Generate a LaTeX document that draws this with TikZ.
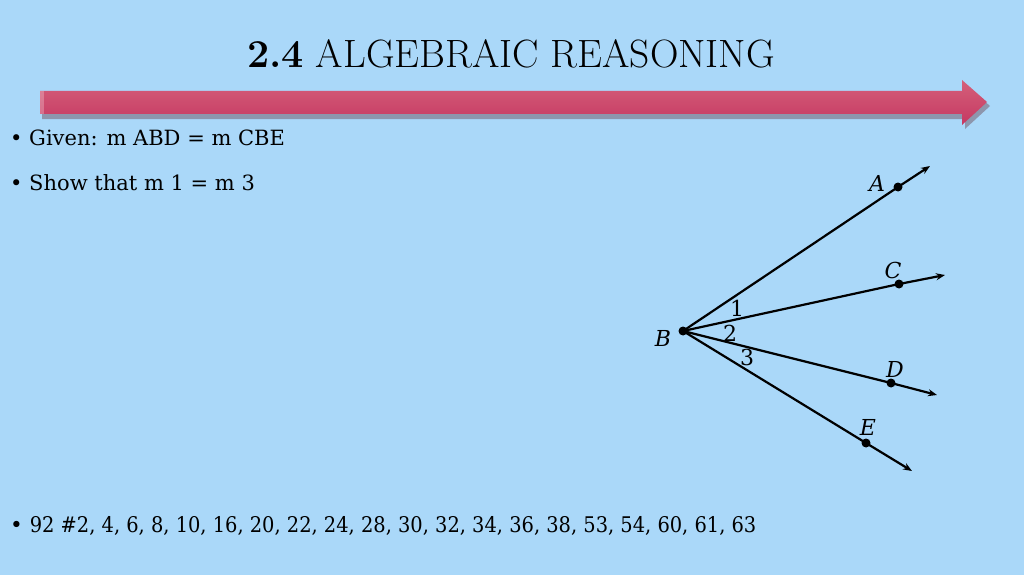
\documentclass[tikz,border=0pt]{standalone}
\usepackage{fontspec}
\newfontfamily\bodyfont{DejaVu Serif}
\newfontfamily\condfont{DejaVu Serif Condensed}
\usetikzlibrary{arrows.meta,shadows}
\definecolor{bg}{RGB}{170,216,249}
\definecolor{arrowtop}{RGB}{212,96,122}
\definecolor{arrowbot}{RGB}{198,56,98}
\tikzset{
  ray/.style={line width=2.2pt,-{Stealth[length=9pt,width=7pt]}},
  pt/.style={circle,fill=black,inner sep=0pt,minimum size=9pt},
  lab/.style={font=\bodyfont\itshape\fontsize{22}{24}\selectfont,inner sep=0pt},
  num/.style={font=\bodyfont\fontsize{22}{24}\selectfont,inner sep=0pt},
  bullet/.style={font=\bodyfont\fontsize{21}{24}\selectfont,anchor=base west,inner sep=0pt}
}
\begin{document}
\begin{tikzpicture}[x=1pt,y=-1pt]
\useasboundingbox (0,0) rectangle (1024,575);
\fill[bg] (0,0) rectangle (1024,575);
% title
\node[anchor=base,inner sep=0pt,font=\fontsize{39.5}{42}\selectfont] (title) at (511,68) {\textbf{2.4} ALGEBRAIC REASONING};
% big arrow shadow
\fill[black!70!red,opacity=0.3] (42,94) -- (965,94) -- (965,84) -- (990,106) -- (965,129) -- (965,119) -- (42,119) -- cycle;
% big arrow
\shade[top color=arrowtop,bottom color=arrowbot] (40,91) -- (962,91) -- (962,80) -- (987,102) -- (962,125) -- (962,114) -- (40,114) -- cycle;
\fill[white,opacity=0.25] (40,91) rectangle (44,114);
% bullets
\node[bullet] (b1) at (10,145) {• Given: m ABD = m CBE};
\node[bullet] (b2) at (10,190) {• Show that m 1 = m 3};
\node[anchor=base west,inner sep=0pt,font=\fontsize{21.6}{24}\selectfont] (b3) at (10,532) {\bodyfont •\ \condfont 92 \#2, 4, 6, 8, 10, 16, 20, 22, 24, 28, 30, 32, 34, 36, 38, 53, 54, 60, 61, 63};
% geometry
\node[pt] (B) at (683,331) {};
\node[pt] (A) at (898,187) {};
\node[pt] (C) at (899,284) {};
\node[pt] (D) at (891,383) {};
\node[pt] (E) at (866,443) {};
\coordinate (Ae) at (930,166);
\coordinate (Ce) at (945,275);
\coordinate (De) at (937,395);
\coordinate (Ee) at (912,471);
\draw[ray] (B.center) -- (A.center) -- (Ae);
\draw[ray] (B.center) -- (C.center) -- (Ce);
\draw[ray] (B.center) -- (D.center) -- (De);
\draw[ray] (B.center) -- (E.center) -- (Ee);
\node[lab] (lA) at (877,183) {A};
\node[lab] (lC) at (893,270) {C};
\node[lab] (lD) at (895,369) {D};
\node[lab] (lE) at (868,427) {E};
\node[lab] (lB) at (663,338) {B};
\node[num] (n1) at (737,308) {1};
\node[num] (n2) at (730,333) {2};
\node[num] (n3) at (747,357) {3};
\end{tikzpicture}
\end{document}
